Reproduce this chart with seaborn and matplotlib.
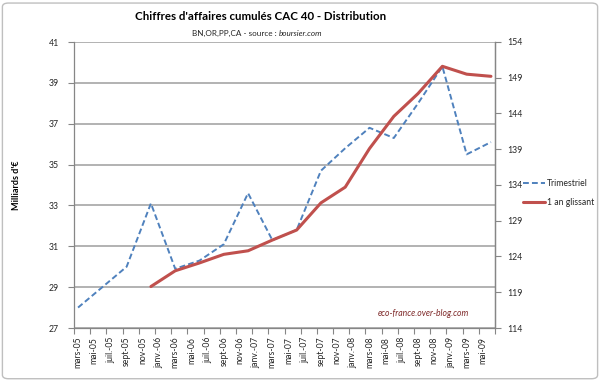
import matplotlib
matplotlib.use("Agg")
import matplotlib.pyplot as plt
import seaborn as sns
import pandas as pd
import numpy as np
from matplotlib.lines import Line2D
from matplotlib.patches import FancyBboxPatch

# ---- data ----
quarters = ["mars-05", "juin-05", "sept-05", "déc-05",
            "mars-06", "juin-06", "sept-06", "déc-06",
            "mars-07", "juin-07", "sept-07", "déc-07",
            "mars-08", "juin-08", "sept-08", "déc-08",
            "mars-09", "juin-09"]
trimestriel = [28.0, 29.0, 30.0, 33.1,
               29.9, 30.3, 31.1, 33.6,
               31.3, 31.8, 34.7, 35.8,
               36.8, 36.3, 38.0, 39.8,
               35.5, 36.1]
glissant = [np.nan, np.nan, np.nan, 119.8,
            122.0, 123.1, 124.3, 124.8,
            126.3, 127.7, 131.5, 133.7,
            139.1, 143.6, 146.8, 150.6,
            149.5, 149.2]
tick_labels = ["mars-05", "mai-05", "juil.-05", "sept-05", "nov-05",
               "janv.-06", "mars-06", "mai-06", "juil.-06", "sept-06", "nov-06",
               "janv.-07", "mars-07", "mai-07", "juil.-07", "sept-07", "nov-07",
               "janv.-08", "mars-08", "mai-08", "juil.-08", "sept-08", "nov-08",
               "janv.-09", "mars-09", "mai-09"]

month_num = {"janv": 1, "févr": 2, "mars": 3, "avr": 4, "mai": 5, "juin": 6,
             "juil": 7, "août": 8, "sept": 9, "oct": 10, "nov": 11, "déc": 12}

def month_index(lbl):
    name, yr = lbl.replace(".", "").split("-")
    return (2000 + int(yr) - 2005) * 12 + month_num[name] - 3

df = pd.DataFrame({"q": quarters, "Trimestriel": trimestriel, "1 an glissant": glissant})
df["m"] = [month_index(q) for q in quarters]

sns.set_theme(style="white")
plt.rcParams["font.family"] = ["Lato", "DejaVu Sans"]

BLUE = "#4f81bd"
RED = "#c0504d"
GRID = "#a6a6a6"
AX = "#868686"
TXT = "#262626"
FS = 6.3

fig = plt.figure(figsize=(6.0, 3.81), dpi=100)
fig.patch.set_facecolor("white")
border = FancyBboxPatch((0.004, 0.006), 0.992, 0.986, boxstyle="round,pad=0,rounding_size=0.01",
                        transform=fig.transFigure, facecolor="white", edgecolor="#bfbfbf",
                        linewidth=1.0, zorder=-10)
fig.patches.append(border)

ax = fig.add_axes([74/600, 1-328/381, (495-74)/600, (328-42)/381])
ax.set_facecolor("none")
sns.lineplot(data=df, x="m", y="Trimestriel", ax=ax, color=BLUE, linewidth=1.4,
             linestyle=(0, (3, 1.6)), legend=False)
ax.set_ylim(27, 41)
ax.set_yticks(np.arange(27, 42, 2))
ax.set_xlim(-0.5, 51.5)
lab_pos = [month_index(t) for t in tick_labels]
ax.set_xticks(lab_pos)
ax.set_xticklabels(tick_labels, rotation=90, fontsize=6.2, color=TXT)
ax.set_xticks(np.arange(-0.5, 52, 2), minor=True)
ax.tick_params(axis="x", which="major", length=0, pad=6.3)
ax.tick_params(axis="x", which="minor", length=4, color=AX, width=0.8, direction="out", bottom=True)
ax.tick_params(axis="y", length=4, color=AX, width=0.8, direction="out", left=True,
               labelsize=FS, labelcolor=TXT, pad=7)
ax.yaxis.grid(True, color=GRID, linewidth=1.2)
ax.xaxis.grid(False)
ax.set_xlabel("")
ax.set_ylabel("Milliards d'€", fontsize=6.5, fontweight="bold", color="black", labelpad=20)
for s in ["left", "bottom", "right"]:
    ax.spines[s].set_color(AX)
    ax.spines[s].set_linewidth(0.9)
ax.spines["top"].set_visible(False)

ax2 = ax.twinx()
sns.lineplot(data=df, x="m", y="1 an glissant", ax=ax2, color=RED, linewidth=2.2, legend=False)
ax2.set_ylim(114, 154)
ax2.set_yticks(np.arange(114, 155, 5))
ax2.tick_params(axis="y", length=4, color=AX, width=0.8, direction="out", right=True,
                labelsize=FS, labelcolor=TXT, pad=5)
ax2.set_ylabel("")
ax2.grid(False)
for s in ["left", "bottom", "top"]:
    ax2.spines[s].set_visible(False)
ax2.spines["right"].set_color(AX)
ax2.spines["right"].set_linewidth(0.9)
ax.set_zorder(ax2.get_zorder() - 1)
ax2.set_facecolor("none")

fig.text(261/600, 1-17/381, "Chiffres d'affaires cumulés CAC 40 - Distribution",
         ha="center", va="center", fontsize=8.3, fontweight="bold", color="black")
t1 = fig.text(0, 1-33/381, "BN,OR,PP,CA - source : ", ha="left", va="center", fontsize=5.9, color=TXT)
t2 = fig.text(0, 1-33/381, "boursier.com", ha="left", va="center", fontsize=5.9, color=TXT, style="italic")
fig.canvas.draw()
r = fig.canvas.get_renderer()
w1 = t1.get_window_extent(r).width
w2 = t2.get_window_extent(r).width
start = 257 - (w1 + w2) / 2
t1.set_x(start / 600)
t2.set_x((start + w1) / 600)

fig.text(469/600, 1-313/381, "eco-france.over-blog.com", ha="right", va="center",
         fontsize=6.2, style="italic", color="#7f2a2a")

handles = [Line2D([], [], color=BLUE, linewidth=1.4, linestyle=(0, (3, 1.6))),
           Line2D([], [], color=RED, linewidth=2.2)]
fig.legend(handles, ["Trimestriel", "1 an glissant"], loc="center left",
           bbox_to_anchor=(522/600, 1-193/381), frameon=False, fontsize=6.2,
           handlelength=2.6, handletextpad=0.15, labelspacing=1.1, labelcolor=TXT,
           borderpad=0.1, borderaxespad=0)

fig.savefig("out.png", dpi=100)
